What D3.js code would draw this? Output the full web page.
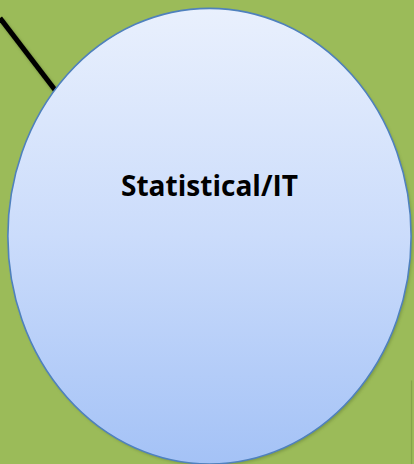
<!DOCTYPE html>
<html>
<head>
<meta charset="utf-8">
<script src="https://cdn.jsdelivr.net/npm/d3@7"></script>
<style>
  html, body { margin: 0; padding: 0; background: #9bbb59; }
  svg { display: block; }
</style>
</head>
<body>
<svg id="chart"></svg>
<script>
// Define the dimensions of the SVG
const width = 414;
const height = 464;

// Node labels and their centre / radius in slide units (0..100)
const labels = ['Statistical/IT'];
const centerX = [50.6];
const centerY = [50.9];
const radiusX = [48.7];
const radiusY = [49.1];

// Connector leaving the node towards the upper left
const linkX = [0, 13.3];
const linkY = [3.9, 19.4];

const x = d3.scaleLinear().domain([0, 100]).range([0, width]);
const y = d3.scaleLinear().domain([0, 100]).range([0, height]);

const nodes = labels.map((label, i) => ({
    label: label,
    cx: centerX[i], cy: centerY[i], rx: radiusX[i], ry: radiusY[i]
}));

const svg = d3.select('#chart')
    .attr('width', width)
    .attr('height', height);

const defs = svg.append('defs');

const grad = defs.append('linearGradient')
    .attr('id', 'fill')
    .attr('x1', 0).attr('y1', 0).attr('x2', 0).attr('y2', 1);
grad.append('stop').attr('offset', '0%').attr('stop-color', '#e9f0fd');
grad.append('stop').attr('offset', '50%').attr('stop-color', '#cbdcfb');
grad.append('stop').attr('offset', '100%').attr('stop-color', '#a4c2f6');

const blur = defs.append('filter').attr('id', 'shadow')
    .attr('x', '-10%').attr('y', '-10%').attr('width', '130%').attr('height', '130%');
blur.append('feGaussianBlur').attr('stdDeviation', 1.5);

// Background
svg.append('rect')
    .attr('width', width)
    .attr('height', height)
    .attr('fill', '#9bbb59');

// faint edge of a neighbouring shape at the bottom right
svg.append('line')
    .attr('x1', x(99.4)).attr('x2', x(99.4))
    .attr('y1', y(82)).attr('y2', y(100))
    .attr('stroke', '#86a24c')
    .attr('stroke-width', 1.2);

// Draw connector (with a soft shadow)
svg.append('line')
    .attr('x1', x(linkX[0]) + 1.5).attr('y1', y(linkY[0]) + 2)
    .attr('x2', x(linkX[1]) + 1.5).attr('y2', y(linkY[1]) + 2)
    .attr('stroke', '#6b853a')
    .attr('stroke-width', 5)
    .attr('filter', 'url(#shadow)');
svg.append('line')
    .attr('x1', x(linkX[0])).attr('y1', y(linkY[0]))
    .attr('x2', x(linkX[1])).attr('y2', y(linkY[1]))
    .attr('stroke', '#000')
    .attr('stroke-width', 5);

// Node shadows
svg.selectAll('.node-shadow')
    .data(nodes)
    .join('ellipse')
    .attr('class', 'node-shadow')
    .attr('cx', d => x(d.cx) + 1.5)
    .attr('cy', d => y(d.cy) + 2)
    .attr('rx', d => x(d.rx))
    .attr('ry', d => y(d.ry))
    .attr('fill', '#6b853a')
    .attr('opacity', 0.6)
    .attr('filter', 'url(#shadow)');

// Draw nodes
svg.selectAll('.node')
    .data(nodes)
    .join('ellipse')
    .attr('class', 'node')
    .attr('cx', d => x(d.cx))
    .attr('cy', d => y(d.cy))
    .attr('rx', d => x(d.rx))
    .attr('ry', d => y(d.ry))
    .attr('fill', 'url(#fill)')
    .attr('stroke', '#4f81bd')
    .attr('stroke-width', 1.6);

// Draw labels, sized so the label spans the same width as the original
const labelWidth = 42.8; // in slide units
const label = svg.selectAll('.label')
    .data(nodes)
    .join('text')
    .attr('class', 'label')
    .attr('x', d => x(d.cx))
    .attr('y', y(42.3))
    .attr('text-anchor', 'middle')
    .attr('font-family', '"Open Sans", Lato, sans-serif')
    .attr('font-weight', 'bold')
    .attr('font-size', 24)
    .attr('fill', '#000')
    .text(d => d.label);

label.each(function() {
    const w = this.getComputedTextLength();
    d3.select(this).attr('font-size', 24 * x(labelWidth) / w);
});
</script>
</body>
</html>
